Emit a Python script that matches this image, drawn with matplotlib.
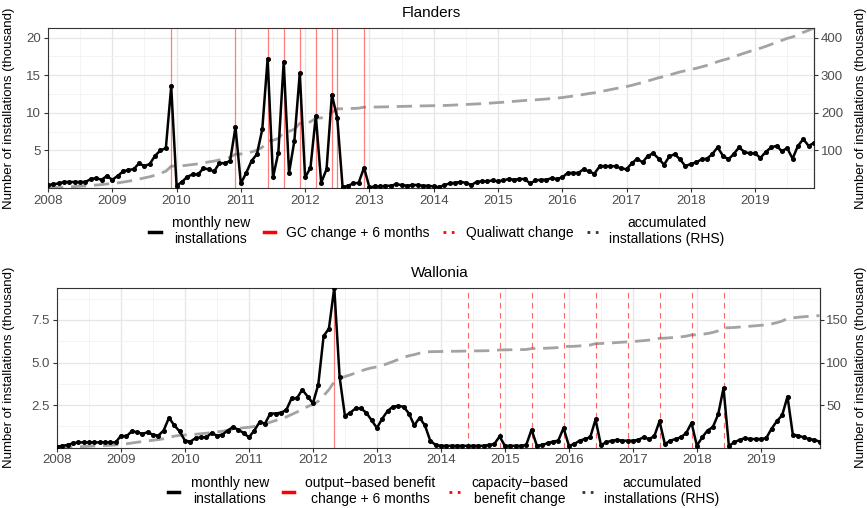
import numpy as np
import matplotlib.pyplot as plt
from matplotlib.lines import Line2D

plt.rcParams['font.family'] = ['Liberation Sans', 'DejaVu Sans']

# monthly data, Jan 2008 .. Dec 2019 (thousand installations)
years = np.arange(2008, 2020)
months = 2008 + np.arange(144) / 12.0

flanders_monthly = [
    0.4, 0.5, 0.6, 0.8, 0.8, 0.8, 0.8, 0.8, 1.2, 1.3, 1.1, 1.6,
    1.1, 1.6, 2.2, 2.4, 2.5, 3.3, 2.9, 3.2, 4.3, 5.0, 5.3, 13.5,
    0.3, 0.8, 1.5, 1.8, 1.8, 2.6, 2.5, 2.2, 3.3, 3.3, 3.6, 8.1,
    0.6, 2.0, 3.6, 4.5, 7.8, 17.2, 1.4, 4.7, 16.8, 2.0, 6.3, 15.3,
    1.4, 2.7, 9.6, 0.7, 2.5, 12.4, 9.3, 0.1, 0.3, 0.6, 0.7, 2.7,
    0.1, 0.2, 0.2, 0.3, 0.3, 0.5, 0.4, 0.3, 0.4, 0.4, 0.3, 0.3,
    0.2, 0.1, 0.4, 0.6, 0.7, 0.8, 0.7, 0.4, 0.8, 0.9, 0.9, 1.0,
    0.9, 1.0, 1.2, 1.1, 1.2, 1.2, 0.6, 1.0, 1.1, 1.1, 1.3, 1.2,
    1.4, 2.0, 2.0, 2.0, 2.5, 2.2, 1.9, 2.9, 2.9, 2.9, 2.9, 2.6,
    2.5, 3.3, 3.9, 3.4, 4.3, 4.6, 3.9, 3.1, 4.2, 4.5, 3.8, 2.9,
    3.2, 3.4, 3.8, 3.9, 4.5, 5.4, 4.3, 3.8, 4.5, 5.4, 4.8, 4.6,
    4.6, 4.0, 4.8, 5.4, 5.6, 4.9, 5.3, 3.9, 5.6, 6.5, 5.6, 6.0,
]

wallonia_monthly = [
    0.05, 0.1, 0.15, 0.25, 0.3, 0.3, 0.3, 0.3, 0.3, 0.3, 0.3, 0.3,
    0.7, 0.65, 0.95, 0.9, 0.8, 0.9, 0.75, 0.7, 1.0, 1.75, 1.3, 0.95,
    0.4, 0.35, 0.55, 0.6, 0.6, 0.85, 0.7, 0.75, 1.0, 1.2, 1.05, 0.85,
    0.6, 1.0, 1.5, 1.4, 2.0, 2.0, 2.05, 2.2, 2.9, 2.9, 3.4, 3.0,
    2.6, 3.7, 6.55, 7.0, 9.4, 4.15, 1.85, 2.05, 2.3, 2.3, 2.05, 1.6,
    1.15, 1.7, 2.15, 2.4, 2.45, 2.4, 2.0, 1.3, 1.75, 1.3, 0.4, 0.15,
    0.1, 0.1, 0.1, 0.1, 0.1, 0.1, 0.1, 0.1, 0.1, 0.15, 0.2, 0.65,
    0.1, 0.1, 0.1, 0.1, 0.15, 1.05, 0.1, 0.15, 0.25, 0.35, 0.4, 1.15,
    0.1, 0.2, 0.4, 0.5, 0.6, 1.65, 0.15, 0.3, 0.4, 0.45, 0.4, 0.4,
    0.4, 0.45, 0.6, 0.5, 0.65, 1.55, 0.2, 0.4, 0.5, 0.6, 0.85, 1.45,
    0.1, 0.6, 1.0, 1.2, 1.95, 3.5, 0.1, 0.3, 0.45, 0.55, 0.5, 0.5,
    0.5, 0.55, 1.1, 1.55, 1.9, 3.0, 0.75, 0.7, 0.6, 0.5, 0.45, 0.35,
]

# policy dates (year, month)
flanders_gc_change = [(2009, 12), (2010, 12), (2011, 6), (2011, 9), (2011, 12),
                      (2012, 3), (2012, 6), (2012, 7), (2012, 12)]
wallonia_output_change = [(2012, 5)]
wallonia_capacity_change = [(2014, 6), (2014, 12), (2015, 6), (2015, 12), (2016, 6),
                            (2016, 12), (2017, 6), (2017, 12), (2018, 6)]

ylab = 'Number of installations (thousand)'


def to_dec(d):
    return d[0] + (d[1] - 1) / 12.0


def panel(ax, monthly, solid_events, dashed_events, lticks, lfmt, rticks, lx, rx):
    monthly = np.array(monthly)
    acc = np.cumsum(monthly)
    ax.plot(months, acc / 20, color='#a3a3a3', lw=2.0, dashes=(5.5, 2.8), zorder=2)
    for d in solid_events:
        ax.axvline(to_dec(d), color='red', alpha=0.5, lw=0.9, zorder=3)
    for d in dashed_events:
        ax.axvline(to_dec(d), color='red', alpha=0.6, lw=0.8, dashes=(5, 4), zorder=3)
    ax.plot(months, monthly, color='black', lw=1.8, marker='o', ms=2.6, zorder=4)
    ax.set_xlim(months[0], months[-1])
    ax.set_ylim(0, max(monthly.max(), acc.max() / 20))
    ax.set_xticks(years)
    ax.set_xticks(years + 0.5, minor=True)
    ax.set_yticks(lticks)
    ax.set_yticklabels([lfmt % t for t in lticks])
    step = lticks[1] - lticks[0]
    ax.set_yticks(np.arange(step / 2, ax.get_ylim()[1], step), minor=True)
    ax.grid(which='major', color='#e6e6e6', lw=0.9)
    ax.grid(which='minor', color='#f2f2f2', lw=0.6)
    ax.set_axisbelow(True)
    for s in ax.spines.values():
        s.set_color('#333333')
        s.set_linewidth(0.8)
    ax.tick_params(which='major', length=3, color='#333333', labelcolor='#4d4d4d',
                   labelsize=9.5, pad=2)
    ax.tick_params(which='minor', length=0)
    ax.set_ylabel(ylab, fontsize=9.5)
    ax.yaxis.set_label_coords(lx, 0.5)
    sec = ax.secondary_yaxis('right', functions=(lambda v: v * 20, lambda v: v / 20))
    sec.set_yticks(rticks)
    sec.tick_params(length=3, color='#333333', labelcolor='#4d4d4d', labelsize=9.5, pad=2)
    sec.spines['right'].set_color('#333333')
    sec.spines['right'].set_linewidth(0.8)
    sec.set_ylabel(ylab, fontsize=9.5, rotation=90)
    sec.yaxis.set_label_coords(rx, 0.5, transform=ax.transAxes)


fig = plt.figure(figsize=(8.67, 5.08), dpi=100)
ax1 = fig.add_axes([48 / 867, 1 - 188 / 508, 766 / 867, 160 / 508])
ax2 = fig.add_axes([57 / 867, 1 - 447.5 / 508, 762.5 / 867, 159.8 / 508])

panel(ax1, flanders_monthly, flanders_gc_change, [], [5, 10, 15, 20], '%d',
      [100, 200, 300, 400], -0.043, 1.054)
panel(ax2, wallonia_monthly, wallonia_output_change, wallonia_capacity_change,
      [2.5, 5.0, 7.5], '%.1f', [50, 100, 150], -0.055, 1.047)

fig.text(431 / 867, 1 - 13 / 508, 'Flanders', ha='center', va='center', fontsize=11)
fig.text(440 / 867, 1 - 273 / 508, 'Wallonia', ha='center', va='center', fontsize=11)


def legend(labels, y, x):
    handles = [Line2D([], [], color='black', lw=2.5),
               Line2D([], [], color='red', lw=2.5),
               Line2D([], [], color='red', lw=2.0, dashes=(1, 2)),
               Line2D([], [], color='#333333', lw=2.0, dashes=(1, 2))]
    leg = fig.legend(handles, labels, loc='center', bbox_to_anchor=(x / 867, 1 - y / 508),
                     ncol=4, frameon=False, fontsize=10, handlelength=0.8,
                     handletextpad=0.8, columnspacing=1.0)
    for t in leg.get_texts():
        t.set_multialignment('center')


legend(['monthly new\ninstallations', 'GC change + 6 months', 'Qualiwatt change',
        'accumulated\ninstallations (RHS)'], 231, 437)
legend(['monthly new\ninstallations', 'output\u2212based benefit\nchange + 6 months',
        'capacity\u2212based\nbenefit change', 'accumulated\ninstallations (RHS)'], 491, 444)

fig.savefig('out.png', dpi=100)
